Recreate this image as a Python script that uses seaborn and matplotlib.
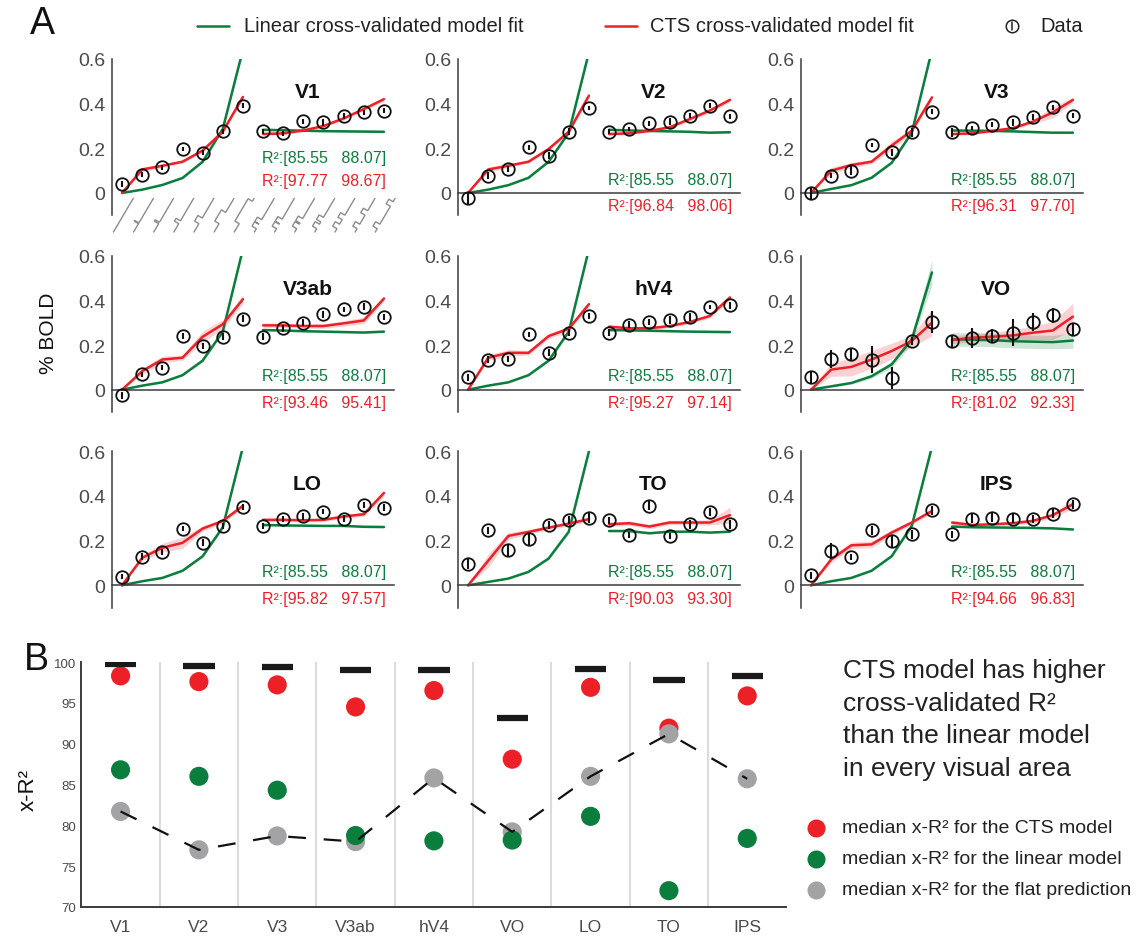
import numpy as np
import matplotlib
matplotlib.use("Agg")
import matplotlib.pyplot as plt
from matplotlib.lines import Line2D
import seaborn as sns

# ---------------- data ----------------
AREAS = ['V1', 'V2', 'V3', 'V3ab', 'hV4', 'VO', 'LO', 'TO', 'IPS']

# stimulus conditions: 7 one-pulse durations, 7 two-pulse ISIs (ms)
ONE_PULSE_MS = [0, 17, 33, 67, 134, 267, 533]
TWO_PULSE_ISI_MS = [0, 17, 33, 67, 134, 267, 533]
PULSE_MS = 134

# % BOLD per area (rows) and condition (cols)
DATA_MEAN = np.array([
    [0.040, 0.082, 0.115, 0.197, 0.181, 0.276, 0.391, 0.276, 0.267, 0.321, 0.317, 0.345, 0.361, 0.369],
    [-0.024, 0.078, 0.107, 0.204, 0.167, 0.275, 0.381, 0.275, 0.287, 0.312, 0.319, 0.346, 0.391, 0.343],
    [-0.002, 0.078, 0.099, 0.215, 0.182, 0.272, 0.364, 0.272, 0.290, 0.306, 0.317, 0.340, 0.384, 0.346],
    [-0.026, 0.068, 0.098, 0.240, 0.195, 0.237, 0.318, 0.237, 0.275, 0.300, 0.338, 0.360, 0.372, 0.326],
    [0.056, 0.135, 0.138, 0.248, 0.165, 0.255, 0.330, 0.255, 0.291, 0.303, 0.312, 0.326, 0.371, 0.378],
    [0.056, 0.138, 0.158, 0.135, 0.053, 0.218, 0.303, 0.218, 0.233, 0.240, 0.255, 0.303, 0.333, 0.270],
    [0.038, 0.128, 0.149, 0.254, 0.190, 0.266, 0.351, 0.266, 0.296, 0.308, 0.330, 0.299, 0.359, 0.348],
    [0.096, 0.246, 0.158, 0.206, 0.269, 0.291, 0.303, 0.291, 0.225, 0.356, 0.221, 0.273, 0.329, 0.273],
    [0.045, 0.153, 0.126, 0.246, 0.198, 0.228, 0.336, 0.228, 0.299, 0.303, 0.299, 0.296, 0.321, 0.363],
])
DATA_ERR = np.array([
    [0.012, 0.012, 0.010, 0.010, 0.012, 0.012, 0.012, 0.010, 0.010, 0.012, 0.015, 0.012, 0.010, 0.010],
    [0.025, 0.015, 0.012, 0.010, 0.015, 0.015, 0.010, 0.012, 0.010, 0.012, 0.015, 0.012, 0.010, 0.010],
    [0.025, 0.012, 0.020, 0.010, 0.015, 0.020, 0.010, 0.020, 0.010, 0.012, 0.015, 0.015, 0.012, 0.012],
    [0.015, 0.012, 0.012, 0.015, 0.015, 0.015, 0.015, 0.015, 0.015, 0.015, 0.015, 0.012, 0.015, 0.015],
    [0.015, 0.015, 0.012, 0.010, 0.015, 0.015, 0.012, 0.015, 0.015, 0.015, 0.018, 0.018, 0.010, 0.015],
    [0.025, 0.040, 0.030, 0.060, 0.050, 0.020, 0.050, 0.025, 0.045, 0.030, 0.060, 0.040, 0.035, 0.025],
    [0.012, 0.015, 0.012, 0.010, 0.015, 0.012, 0.012, 0.012, 0.012, 0.015, 0.012, 0.015, 0.012, 0.015],
    [0.025, 0.015, 0.025, 0.030, 0.018, 0.018, 0.025, 0.015, 0.015, 0.020, 0.015, 0.020, 0.018, 0.020],
    [0.015, 0.035, 0.015, 0.020, 0.025, 0.020, 0.020, 0.015, 0.020, 0.020, 0.018, 0.018, 0.020, 0.020],
])
CTS_FIT = np.array([
    [0, 0.105, 0.122, 0.140, 0.190, 0.275, 0.430, 0.264, 0.267, 0.280, 0.300, 0.334, 0.376, 0.420],
    [0, 0.105, 0.122, 0.140, 0.197, 0.275, 0.436, 0.264, 0.267, 0.278, 0.294, 0.331, 0.369, 0.417],
    [0, 0.100, 0.125, 0.140, 0.212, 0.279, 0.428, 0.264, 0.267, 0.278, 0.290, 0.319, 0.361, 0.417],
    [0, 0.083, 0.135, 0.143, 0.237, 0.293, 0.405, 0.288, 0.288, 0.285, 0.285, 0.297, 0.310, 0.408],
    [0, 0.143, 0.165, 0.165, 0.240, 0.273, 0.383, 0.282, 0.275, 0.275, 0.285, 0.303, 0.330, 0.413],
    [0, 0.090, 0.102, 0.135, 0.173, 0.218, 0.300, 0.222, 0.233, 0.237, 0.243, 0.255, 0.265, 0.327],
    [0, 0.123, 0.168, 0.190, 0.254, 0.288, 0.356, 0.293, 0.293, 0.291, 0.293, 0.308, 0.318, 0.413],
    [0, 0.110, 0.221, 0.239, 0.258, 0.276, 0.296, 0.273, 0.278, 0.263, 0.281, 0.281, 0.281, 0.314],
    [0, 0.116, 0.179, 0.183, 0.236, 0.281, 0.333, 0.281, 0.270, 0.273, 0.278, 0.288, 0.314, 0.363],
])
CTS_BAND = np.array([
    [0, 0.010, 0.008, 0.006, 0.008, 0.008, 0.010, 0.006, 0.006, 0.006, 0.006, 0.008, 0.008, 0.010],
    [0, 0.012, 0.008, 0.006, 0.008, 0.008, 0.010, 0.006, 0.006, 0.006, 0.008, 0.008, 0.010, 0.010],
    [0, 0.015, 0.012, 0.010, 0.020, 0.010, 0.012, 0.006, 0.006, 0.006, 0.008, 0.010, 0.025, 0.012],
    [0, 0.015, 0.015, 0.012, 0.025, 0.020, 0.020, 0.010, 0.010, 0.010, 0.010, 0.012, 0.015, 0.012],
    [0, 0.012, 0.015, 0.010, 0.012, 0.010, 0.012, 0.008, 0.008, 0.008, 0.008, 0.008, 0.010, 0.012],
    [0, 0.030, 0.040, 0.040, 0.035, 0.025, 0.060, 0.015, 0.020, 0.020, 0.025, 0.030, 0.040, 0.060],
    [0, 0.012, 0.020, 0.025, 0.012, 0.010, 0.010, 0.008, 0.008, 0.008, 0.008, 0.008, 0.010, 0.015],
    [0, 0.030, 0.015, 0.010, 0.010, 0.010, 0.010, 0.010, 0.010, 0.010, 0.010, 0.010, 0.012, 0.035],
    [0, 0.015, 0.015, 0.015, 0.012, 0.010, 0.010, 0.010, 0.008, 0.008, 0.008, 0.010, 0.012, 0.020],
])
LIN_FIT = np.array([
    [0, 0.015, 0.036, 0.067, 0.140, 0.287, 0.642, 0.283, 0.281, 0.279, 0.277, 0.276, 0.275, 0.274],
    [0, 0.015, 0.035, 0.068, 0.140, 0.270, 0.630, 0.283, 0.280, 0.278, 0.276, 0.274, 0.270, 0.272],
    [0, 0.018, 0.035, 0.068, 0.135, 0.270, 0.640, 0.280, 0.279, 0.278, 0.276, 0.273, 0.270, 0.270],
    [0, 0.018, 0.033, 0.065, 0.130, 0.260, 0.630, 0.267, 0.265, 0.262, 0.260, 0.258, 0.256, 0.260],
    [0, 0.018, 0.033, 0.065, 0.130, 0.260, 0.630, 0.267, 0.266, 0.264, 0.262, 0.260, 0.259, 0.258],
    [0, 0.015, 0.030, 0.060, 0.113, 0.225, 0.525, 0.225, 0.224, 0.222, 0.217, 0.215, 0.213, 0.220],
    [0, 0.018, 0.033, 0.065, 0.130, 0.260, 0.620, 0.270, 0.268, 0.267, 0.266, 0.266, 0.262, 0.261],
    [0, 0.015, 0.030, 0.060, 0.120, 0.240, 0.600, 0.243, 0.243, 0.233, 0.240, 0.240, 0.236, 0.240],
    [0, 0.018, 0.033, 0.065, 0.130, 0.266, 0.620, 0.263, 0.260, 0.259, 0.258, 0.257, 0.255, 0.250],
])
LIN_BAND = np.array([
    [0, 0.002, 0.003, 0.004, 0.006, 0.008, 0.012, 0.004, 0.004, 0.004, 0.004, 0.004, 0.004, 0.004],
    [0, 0.002, 0.003, 0.004, 0.006, 0.008, 0.012, 0.004, 0.004, 0.004, 0.004, 0.004, 0.004, 0.004],
    [0, 0.002, 0.003, 0.004, 0.006, 0.008, 0.012, 0.004, 0.004, 0.004, 0.004, 0.004, 0.004, 0.004],
    [0, 0.002, 0.003, 0.004, 0.006, 0.008, 0.012, 0.004, 0.004, 0.004, 0.004, 0.004, 0.004, 0.004],
    [0, 0.002, 0.003, 0.004, 0.006, 0.008, 0.012, 0.004, 0.004, 0.004, 0.004, 0.004, 0.004, 0.004],
    [0, 0.004, 0.006, 0.010, 0.015, 0.020, 0.055, 0.030, 0.030, 0.030, 0.030, 0.030, 0.030, 0.035],
    [0, 0.002, 0.003, 0.004, 0.006, 0.008, 0.012, 0.004, 0.004, 0.004, 0.004, 0.004, 0.004, 0.004],
    [0, 0.002, 0.003, 0.004, 0.006, 0.008, 0.012, 0.004, 0.004, 0.004, 0.004, 0.004, 0.004, 0.004],
    [0, 0.002, 0.003, 0.004, 0.006, 0.008, 0.012, 0.004, 0.004, 0.004, 0.004, 0.004, 0.004, 0.004],
])
R2_LIN_CI = ['85.55', '88.07']
R2_CTS_LO = ['97.77', '96.84', '96.31', '93.46', '95.27', '81.02', '95.82', '90.03', '94.66']
R2_CTS_HI = ['98.67', '98.06', '97.70', '95.41', '97.14', '92.33', '97.57', '93.30', '96.83']

# panel B: median cross-validated R^2
XR2_CTS = [98.3, 97.6, 97.2, 94.5, 96.5, 88.1, 96.9, 91.9, 95.85]
XR2_LIN = [86.8, 86.0, 84.3, 78.75, 78.1, 78.2, 81.1, 72.0, 78.4]
XR2_FLAT = [81.7, 77.0, 78.7, 78.0, 85.8, 79.2, 86.0, 91.2, 85.7]
XR2_CEIL = [99.7, 99.55, 99.35, 99.06, 99.06, 93.1, 99.2, 97.8, 98.25]

# ---------------- style ----------------
sns.set_style("white")
plt.rcParams['font.family'] = ['Liberation Sans', 'DejaVu Sans']

RED = '#ED2027'
GREEN = '#0B7D3C'
GRAY = '#A3A3A6'
SPINE = '#3a3a3a'
TICKLAB = '#4a4a4a'

W, H = 1140, 937
fig = plt.figure(figsize=(W / 100, H / 100), dpi=100)

COL_LEFT = [112, 458, 801]
ROW_TOP = [60, 256.7, 452.3]
AX_W, AX_H = 282, 156.3
PX_X = AX_W / 14.0          # pixels per condition
PX_Y = AX_H / 0.7           # pixels per % BOLD


def stim_icon(ax, i, onsets, durs, span):
    t, s = [0.0], [0.0]
    for on, d in zip(onsets, durs):
        if d <= 0:
            continue
        t += [on, on, on + d, on + d]
        s += [0, 1, 1, 0]
    t.append(span)
    s.append(0)
    t = np.array(t) / span
    s = np.array(s)
    L, h, th = 39.0, 5.0, np.deg2rad(59.5)
    px = t * L * np.cos(th) - s * h * np.sin(th)
    py = t * L * np.sin(th) + s * h * np.cos(th)
    ax.plot(i - 0.43 + px / PX_X, -0.175 + py / PX_Y, color='#8c8c8c', lw=1.0,
            clip_on=False, solid_joinstyle='miter')


x = np.arange(14)
segs = [slice(0, 7), slice(7, 14)]

for k, area in enumerate(AREAS):
    r, c = divmod(k, 3)
    bottom_px = ROW_TOP[r] + AX_H
    ax = fig.add_axes([COL_LEFT[c] / W, 1 - bottom_px / H, AX_W / W, AX_H / H])
    ax.set_facecolor('none')

    for sg in segs:
        ax.fill_between(x[sg], LIN_FIT[k, sg] - LIN_BAND[k, sg], LIN_FIT[k, sg] + LIN_BAND[k, sg],
                        color=GREEN, alpha=0.2, lw=0)
        ax.fill_between(x[sg], CTS_FIT[k, sg] - CTS_BAND[k, sg], CTS_FIT[k, sg] + CTS_BAND[k, sg],
                        color=RED, alpha=0.2, lw=0)
        sns.lineplot(x=x[sg], y=LIN_FIT[k, sg], ax=ax, color=GREEN, lw=1.8, legend=False)
        sns.lineplot(x=x[sg], y=CTS_FIT[k, sg], ax=ax, color=RED, lw=1.8, legend=False)

    ax.errorbar(x, DATA_MEAN[k], yerr=DATA_ERR[k], fmt='o', ms=9, mfc='none', mec='#111111',
                mew=1.3, ecolor='#111111', elinewidth=1.5, capsize=0, zorder=5)

    ax.set_xlim(-0.5, 13.5)
    ax.set_ylim(-0.1, 0.6)
    for side in ['top', 'right']:
        ax.spines[side].set_visible(False)
    ax.spines['left'].set_bounds(-0.1, 0.6)
    ax.spines['left'].set_color(SPINE)
    ax.spines['left'].set_linewidth(1.1)
    ax.set_yticks([0, 0.2, 0.4, 0.6], ['0', '0.2', '0.4', '0.6'])
    ax.tick_params(axis='y', direction='in', length=4, width=1.1, color=SPINE,
                   labelsize=14, labelcolor=TICKLAB, pad=5)
    if area == 'V1':
        ax.spines['bottom'].set_visible(False)
        ax.set_xticks([])
        for i, d in enumerate(ONE_PULSE_MS):
            stim_icon(ax, i, [200], [d], 800)
        for i, isi in enumerate(TWO_PULSE_ISI_MS):
            stim_icon(ax, i + 7, [100, 100 + PULSE_MS + isi], [PULSE_MS, PULSE_MS], 1000)
        y_lin, y_cts = 0.16, 0.055
    else:
        ax.spines['bottom'].set_position(('data', 0))
        ax.spines['bottom'].set_color(SPINE)
        ax.spines['bottom'].set_linewidth(1.1)
        ax.set_xticks(x)
        ax.tick_params(axis='x', direction='in', length=4, width=1.1, color=SPINE,
                       labelbottom=False)
        y_lin, y_cts = 0.062, -0.058

    ax.text(9.2, 0.455, area, fontsize=15, fontweight='bold', ha='center', va='center',
            color='#111111')
    ax.text(13.1, y_lin, 'R²:[%s   %s]' % (R2_LIN_CI[0], R2_LIN_CI[1]), color=GREEN,
            fontsize=11.5, ha='right', va='center')
    ax.text(13.1, y_cts, 'R²:[%s   %s]' % (R2_CTS_LO[k], R2_CTS_HI[k]), color=RED,
            fontsize=11.5, ha='right', va='center')

# top legend for panel A
ly = 1 - 27 / H
fig.add_artist(Line2D([197 / W, 229 / W], [ly, ly], color=GREEN, lw=1.8, transform=fig.transFigure))
fig.text(244 / W, ly, 'Linear cross-validated model fit', fontsize=14.5, va='center', color='#222222')
fig.add_artist(Line2D([605 / W, 637 / W], [ly, ly], color=RED, lw=1.8, transform=fig.transFigure))
fig.text(650 / W, ly, 'CTS cross-validated model fit', fontsize=14.5, va='center', color='#222222')
fig.add_artist(Line2D([1012 / W], [ly], marker='o', ms=9, mfc='none', mec='#222222', mew=1.1,
                      transform=fig.transFigure))
fig.add_artist(Line2D([1012 / W, 1012 / W], [ly - 4 / H, ly + 4 / H], color='#222222', lw=1.1,
                      transform=fig.transFigure))
fig.text(1040 / W, ly, 'Data', fontsize=14.5, va='center', color='#222222')

fig.text(30 / W, 1 - 24 / H, 'A', fontsize=27, va='center', color='#111111')
fig.text(48 / W, 1 - 333 / H, '% BOLD', fontsize=15, rotation=90, ha='center', va='center',
         color='#111111')

# ---------------- panel B ----------------
axB = fig.add_axes([81.4 / W, 1 - 908 / H, 705 / W, 245 / H])
xb = np.arange(len(AREAS))
for xs in np.arange(0.5, len(AREAS) - 1, 1.0):
    axB.axvline(xs, color='#dcdcdc', lw=1.5, zorder=0)

sns.scatterplot(x=xb, y=XR2_CTS, color=RED, s=190, edgecolor='none', ax=axB, zorder=3, legend=False)
sns.scatterplot(x=xb, y=XR2_FLAT, color=GRAY, s=190, edgecolor='none', ax=axB, zorder=3, legend=False)
sns.scatterplot(x=xb, y=XR2_LIN, color=GREEN, s=190, edgecolor='none', ax=axB, zorder=3, legend=False)
axB.plot(xb, XR2_FLAT, color='#111111', lw=1.6, ls=(0, (8, 8)), zorder=5)
axB.hlines(XR2_CEIL, xb - 0.2, xb + 0.2, color='#1a1a1a', lw=4.5, zorder=4)

axB.set_xlim(-0.5, len(AREAS) - 0.5)
axB.set_ylim(70, 100)
for side in ['top', 'right']:
    axB.spines[side].set_visible(False)
for side in ['left', 'bottom']:
    axB.spines[side].set_color(SPINE)
    axB.spines[side].set_linewidth(1.4)
axB.set_yticks(np.arange(70, 101, 5))
axB.tick_params(axis='y', direction='in', length=5, width=1.2, color=SPINE,
                labelsize=9.5, labelcolor=TICKLAB, pad=4)
axB.set_xticks(xb, AREAS)
axB.set_xticks(np.arange(0.5, len(AREAS) - 1, 1.0), minor=True)
axB.tick_params(axis='x', which='major', length=0, labelsize=12.5, labelcolor=TICKLAB, pad=9)
axB.tick_params(axis='x', which='minor', direction='in', length=6, width=1.4, color=SPINE)

fig.text(24 / W, 1 - 660 / H, 'B', fontsize=27, va='center', color='#111111')
fig.text(28 / W, 1 - 790 / H, 'x-R²', fontsize=16, rotation=90, ha='center', va='center',
         color='#111111')

fig.text(843 / W, 1 - 659 / H,
         'CTS model has higher\ncross-validated R²\nthan the linear model\nin every visual area',
         fontsize=19, va='top', ha='left', linespacing=1.45, color='#222222')

leg_labels = ['median x-R² for the CTS model', 'median x-R² for the linear model',
              'median x-R² for the flat prediction']
for yy, col, lab in zip([829, 860, 891], [RED, GREEN, GRAY], leg_labels):
    fig.add_artist(Line2D([816 / W], [1 - yy / H], marker='o', ms=13, mfc=col, mec='none',
                          transform=fig.transFigure))
    fig.text(842 / W, 1 - yy / H, lab, fontsize=14, va='center', color='#222222')

fig.savefig('out.png', dpi=100)
